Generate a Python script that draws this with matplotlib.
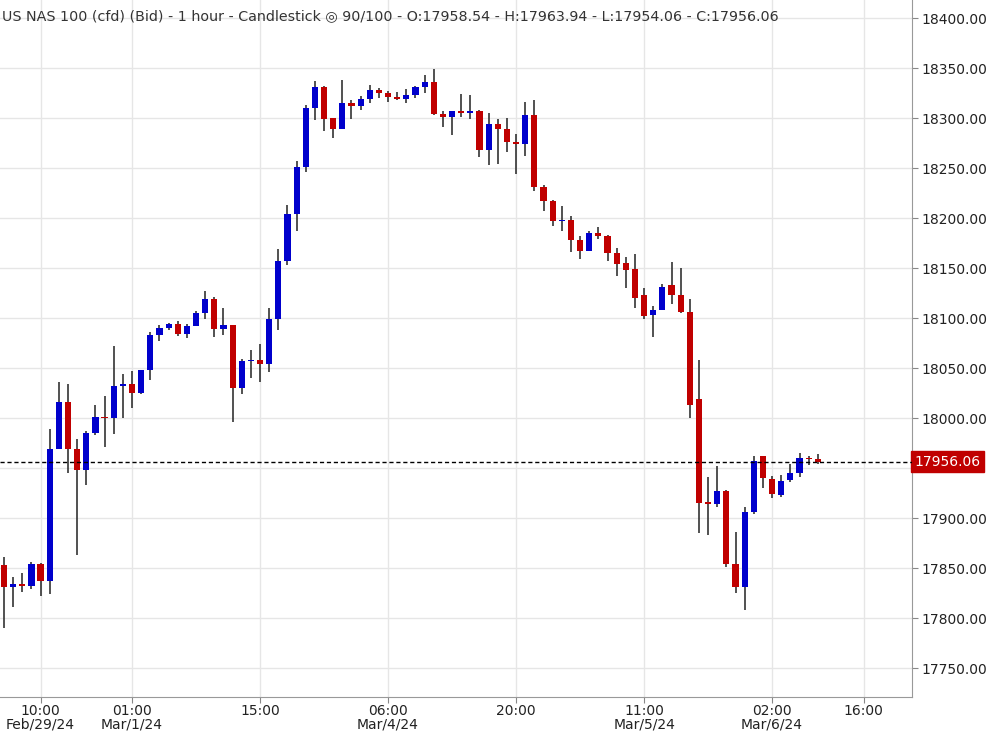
import matplotlib.pyplot as plt
import numpy as np

# OHLC, 90 hourly candles
opens = [17853, 17831, 17834, 17832, 17854, 17837, 17969, 18016, 17969, 17948,
         17985, 18001, 18000, 18032, 18034, 18025, 18048, 18083, 18090, 18094,
         18084, 18092, 18105, 18119, 18089, 18093, 18030, 18057, 18058, 18054,
         18099, 18157, 18204, 18251, 18310, 18331, 18300, 18289, 18315, 18312,
         18319, 18328, 18325, 18321, 18319, 18323, 18331, 18336, 18304, 18301,
         18307, 18305, 18307, 18268, 18294, 18289, 18276, 18274, 18303, 18231,
         18217, 18197, 18198, 18178, 18167, 18185, 18182, 18165, 18155, 18149,
         18123, 18103, 18108, 18133, 18123, 18106, 18019, 17916, 17914, 17927,
         17854, 17831, 17906, 17962, 17939, 17923, 17938, 17945, 17960, 17959]
highs = [17861, 17841, 17845, 17856, 17855, 17989, 18036, 18034, 17979, 17987,
         18013, 18022, 18072, 18044, 18047, 18048, 18086, 18093, 18095, 18097,
         18094, 18107, 18127, 18121, 18110, 18093, 18059, 18068, 18074, 18110,
         18169, 18213, 18257, 18313, 18337, 18332, 18300, 18338, 18318, 18322,
         18333, 18330, 18327, 18326, 18329, 18332, 18343, 18349, 18307, 18307,
         18324, 18323, 18308, 18305, 18299, 18300, 18284, 18316, 18318, 18233,
         18218, 18212, 18202, 18182, 18187, 18191, 18183, 18170, 18161, 18164,
         18130, 18112, 18134, 18156, 18150, 18119, 18058, 17941, 17952, 17928,
         17886, 17911, 17962, 17962, 17942, 17943, 17954, 17965, 17962, 17964]
lows = [17790, 17811, 17826, 17829, 17822, 17824, 17969, 17945, 17863, 17933,
        17983, 17971, 17984, 18000, 18010, 18024, 18038, 18077, 18088, 18082,
        18080, 18092, 18099, 18081, 18083, 17996, 18024, 18040, 18036, 18046,
        18088, 18153, 18187, 18246, 18298, 18287, 18280, 18289, 18299, 18308,
        18315, 18320, 18316, 18318, 18315, 18320, 18325, 18303, 18291, 18283,
        18301, 18299, 18261, 18253, 18254, 18266, 18244, 18262, 18227, 18207,
        18192, 18187, 18166, 18159, 18167, 18179, 18157, 18142, 18130, 18110,
        18099, 18081, 18108, 18114, 18105, 18000, 17885, 17883, 17911, 17851,
        17825, 17808, 17904, 17930, 17920, 17921, 17936, 17941, 17953, 17954]
closes = [17831, 17834, 17832, 17854, 17837, 17969, 18016, 17969, 17948, 17985,
          18001, 18000, 18032, 18034, 18025, 18048, 18083, 18090, 18094, 18084,
          18092, 18105, 18119, 18089, 18093, 18030, 18057, 18058, 18054, 18099,
          18157, 18204, 18251, 18310, 18331, 18299, 18289, 18315, 18312, 18319,
          18328, 18325, 18321, 18319, 18323, 18331, 18336, 18304, 18301, 18307,
          18305, 18307, 18268, 18294, 18289, 18276, 18274, 18303, 18231, 18217,
          18197, 18198, 18178, 18167, 18185, 18182, 18165, 18154, 18148, 18120,
          18102, 18108, 18131, 18123, 18106, 18013, 17915, 17914, 17927, 17854,
          17831, 17906, 17957, 17940, 17924, 17937, 17945, 17960, 17959, 17956.06]

tick_pos = [4, 14, 28, 42, 56, 70, 84, 94]
tick_times = ['10:00', '01:00', '15:00', '06:00', '20:00', '11:00', '02:00', '16:00']
tick_dates = ['Feb/29/24', 'Mar/1/24', '', 'Mar/4/24', '', 'Mar/5/24', 'Mar/6/24', '']

last_close = 17956.06
up_col = '#0000CC'
dn_col = '#C00000'

fig = plt.figure(figsize=(9.95, 7.32), dpi=100)
ax = fig.add_axes([0, 35 / 732, 912 / 995, 697 / 732])

x = np.arange(len(opens))
for i in x:
    o, h, l, c = opens[i], highs[i], lows[i], closes[i]
    col = up_col if c >= o else dn_col
    ax.vlines(i, l, h, color='#333333', lw=1.2, zorder=2)
    ax.bar(i, max(abs(c - o), 1.5), bottom=min(o, c), width=0.68, color=col, zorder=3)

ax.axhline(last_close, color='black', ls=(0, (3, 2)), lw=1, zorder=4)

yt = np.arange(17750, 18401, 50)
ax.set_xlim(-0.44, 99.3)
ax.set_ylim(17721, 18418)
ax.set_yticks(yt)
ax.yaxis.tick_right()
# 17950 is hidden behind the last-price box
ax.set_yticklabels(['' if v == 17950 else f'{v:.2f}' for v in yt], fontsize=10, color='#222222')
ax.set_xticks(tick_pos)
ax.set_xticklabels([f'{t}\n{d}' for t, d in zip(tick_times, tick_dates)], fontsize=10,
                   color='#222222', linespacing=0.95)
ax.tick_params(axis='both', length=4, color='#888888', pad=1)
ax.tick_params(axis='y', pad=3)
ax.grid(True, color='#e6e6e6', lw=1, zorder=0)
ax.set_axisbelow(True)
for s in ['top', 'left']:
    ax.spines[s].set_visible(False)
for s in ['right', 'bottom']:
    ax.spines[s].set_color('#999999')

ax.text(0.002, 0.987, 'US NAS 100 (cfd) (Bid) - 1 hour - Candlestick \u25CE 90/100 - O:17958.54 - H:17963.94 - L:17954.06 - C:17956.06',
        transform=ax.transAxes, ha='left', va='top', fontsize=10.3, color='#333333')

ax.text(1.003, last_close, f'{last_close:.2f}', transform=ax.get_yaxis_transform(),
        ha='left', va='center', fontsize=10, color='white',
        bbox=dict(boxstyle='square,pad=0.25', fc=dn_col, ec=dn_col), clip_on=False)

fig.savefig('out.png', dpi=100)
